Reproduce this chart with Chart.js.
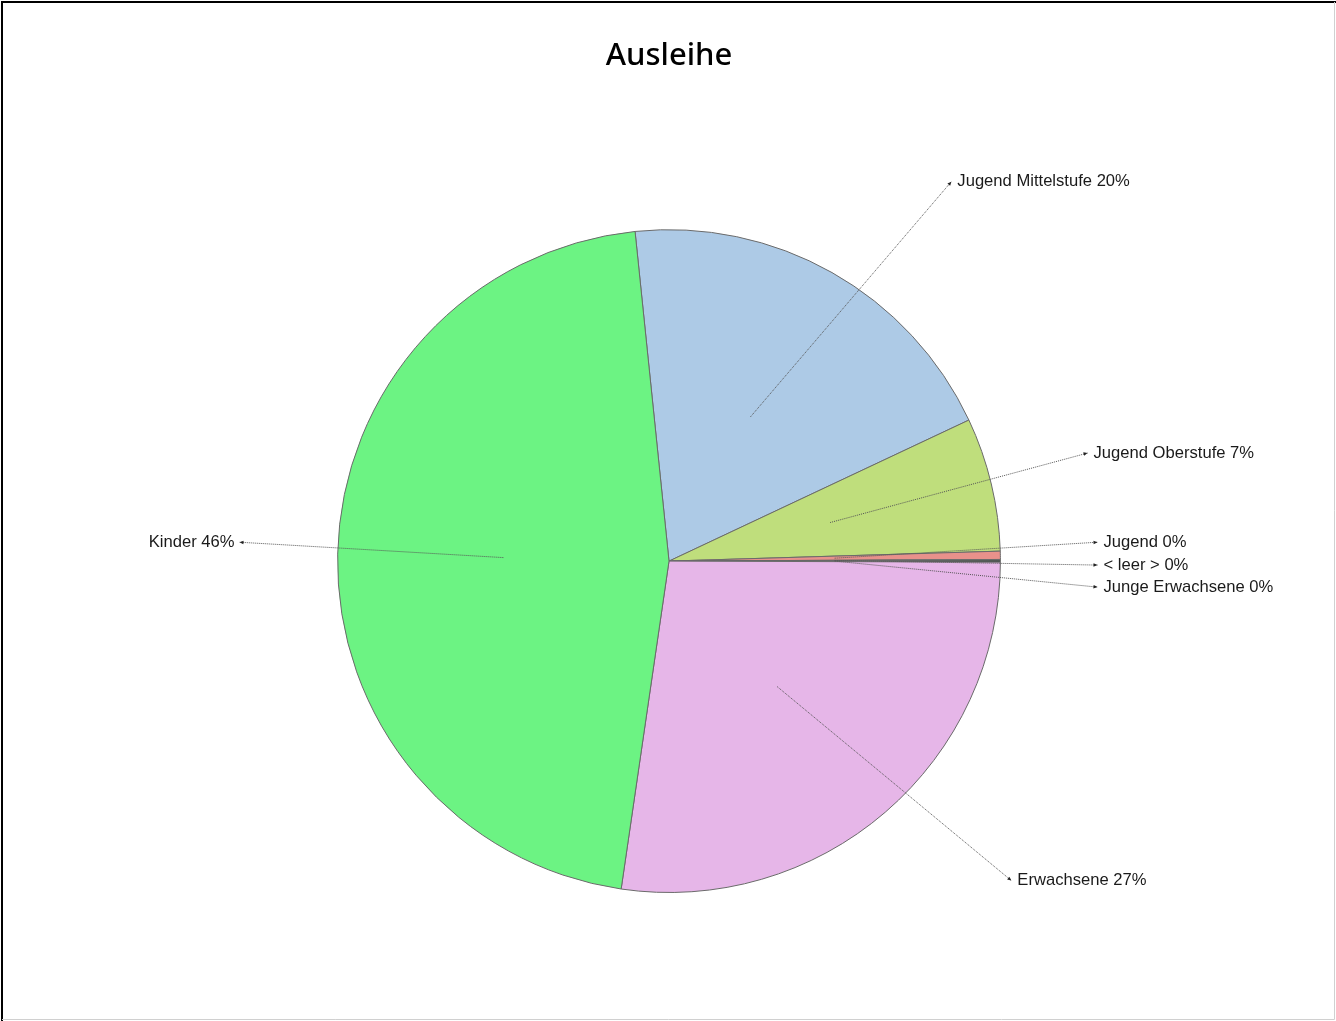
<!DOCTYPE html>
<html>
<head>
<meta charset="utf-8">
<script src="https://cdn.jsdelivr.net/npm/chart.js@4"></script>
<style>
html,body{margin:0;padding:0;background:#fff;}
#wrap{width:1336px;height:1021px;position:relative;}
</style>
</head>
<body>
<div id="wrap"><canvas id="c" width="1336" height="1021"></canvas></div>
<script>
// ---- data ----
const chartTitle = "Ausleihe";
const categories = ["Jugend Mittelstufe", "Jugend Oberstufe", "Jugend", "< leer >", "Junge Erwachsene", "Erwachsene", "Kinder"];
const values = [19.64, 6.52, 0.40, 0.03, 0.10, 27.26, 46.07];
const colors = ["#ADCAE6", "#BFDE7C", "#E8918B", "#C9C9C9", "#2E3F36", "#E6B6E8", "#6CF383"];

// ---- layout (label anchors, in pie-radius units from centre) ----
const labelAnchors = [
  [0.852, -1.145], [1.263, -0.326], [1.293, -0.057], [1.293, 0.012],
  [1.293, 0.0785], [1.033, 0.964], [-1.296, -0.057]
];

const total = values.reduce((a, b) => a + b, 0);

const frame = {
  id: 'frame',
  afterDraw(chart) {
    const ctx = chart.ctx;
    ctx.save();
    ctx.lineWidth = 2;
    ctx.strokeStyle = '#000';
    ctx.beginPath();
    ctx.moveTo(2, 1021); ctx.lineTo(2, 2); ctx.lineTo(1336, 2);
    ctx.stroke();
    ctx.lineWidth = 1;
    ctx.strokeStyle = '#d0d0d0';
    ctx.beginPath();
    ctx.moveTo(1334.5, 2); ctx.lineTo(1334.5, 1019.5); ctx.lineTo(2, 1019.5);
    ctx.stroke();
    ctx.restore();
  }
};

const leaders = {
  id: 'leaders',
  afterDatasetsDraw(chart) {
    const ctx = chart.ctx;
    const meta = chart.getDatasetMeta(0);
    ctx.save();
    meta.data.forEach((arc, i) => {
      const p = arc.getProps(['x', 'y', 'startAngle', 'endAngle', 'outerRadius'], true);
      const mid = (p.startAngle + p.endAngle) / 2;
      const r = p.outerRadius;
      const sx = p.x + Math.cos(mid) * r * 0.5;
      const sy = p.y + Math.sin(mid) * r * 0.5;
      const ex = p.x + labelAnchors[i][0] * r;
      const ey = p.y + labelAnchors[i][1] * r;
      ctx.strokeStyle = '#555';
      ctx.lineWidth = 1;
      ctx.setLineDash([1, 1]);
      ctx.beginPath();
      ctx.moveTo(sx, sy);
      ctx.lineTo(ex, ey);
      ctx.stroke();
      ctx.setLineDash([]);
      // small arrow head
      const ang = Math.atan2(ey - sy, ex - sx);
      ctx.fillStyle = '#222';
      ctx.beginPath();
      ctx.moveTo(ex, ey);
      ctx.lineTo(ex - 4 * Math.cos(ang) + 1.8 * Math.sin(ang), ey - 4 * Math.sin(ang) - 1.8 * Math.cos(ang));
      ctx.lineTo(ex - 4 * Math.cos(ang) - 1.8 * Math.sin(ang), ey - 4 * Math.sin(ang) + 1.8 * Math.cos(ang));
      ctx.closePath();
      ctx.fill();
      // text
      const pct = Math.round(values[i] / total * 100);
      const txt = categories[i] + ' ' + pct + '%';
      ctx.font = '16.6px "Liberation Sans", Arial, sans-serif';
      ctx.fillStyle = '#1a1a1a';
      ctx.textBaseline = 'middle';
      if (ex < p.x) {
        ctx.textAlign = 'right';
        ctx.fillText(txt, ex - 5, ey);
      } else {
        ctx.textAlign = 'left';
        ctx.fillText(txt, ex + 6, ey);
      }
    });
    ctx.restore();
  }
};

new Chart(document.getElementById('c'), {
  type: 'pie',
  data: {
    labels: categories,
    datasets: [{
      data: values,
      backgroundColor: colors,
      borderColor: '#6a6a6a',
      borderWidth: 1
    }]
  },
  options: {
    responsive: false,
    animation: false,
    rotation: -5.88,
    layout: { padding: { left: 337, right: 335, top: 0, bottom: 128 } },
    plugins: {
      legend: { display: false },
      tooltip: { enabled: false },
      title: {
        display: true,
        text: chartTitle,
        color: '#000',
        font: { family: '"Noto Sans", "Open Sans", sans-serif', size: 31, weight: '500' },
        padding: { top: 38, bottom: 154 }
      }
    }
  },
  plugins: [leaders, frame]
});
</script>
</body>
</html>
